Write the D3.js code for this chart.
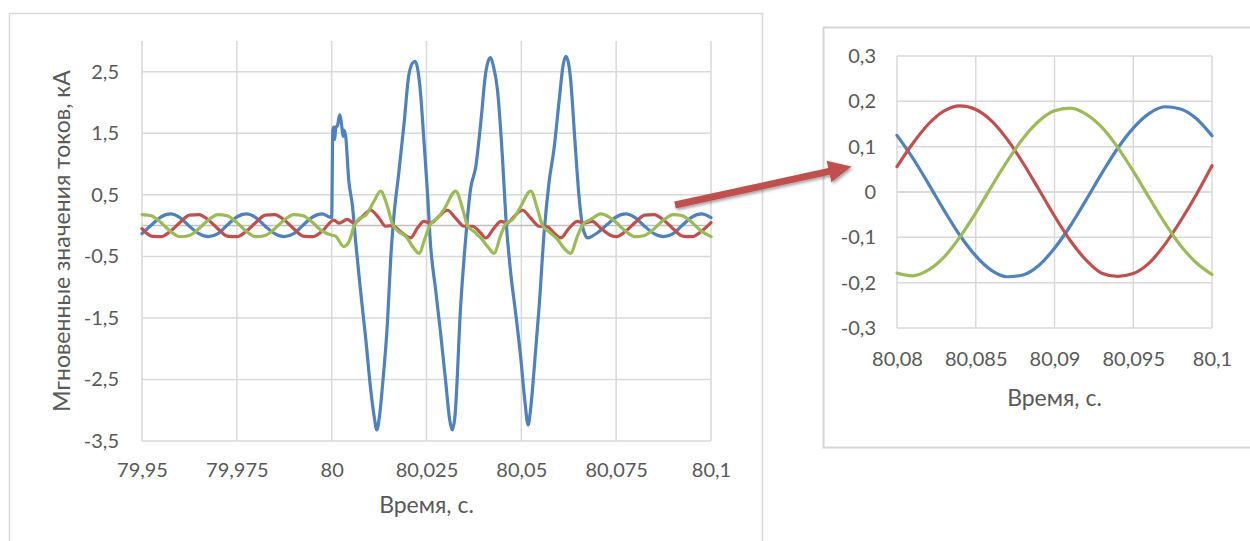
<!DOCTYPE html>
<html><head><meta charset="utf-8">
<script src="https://cdn.jsdelivr.net/npm/d3@7"></script>
<style>
body{margin:0;background:#fff;}
svg{display:block;font-family:Lato,"Open Sans",sans-serif;}
.tick text{fill:#595959;font-size:20px;}
</style></head>
<body>
<svg id="c" width="1250" height="541"></svg>
<script>
// ---------- DATA: main chart (79.95 – 80.1 s) ----------
const mainTickValuesX = [79.95, 79.975, 80, 80.025, 80.05, 80.075, 80.1];
const mainTickLabelsX = ["79,95", "79,975", "80", "80,025", "80,05", "80,075", "80,1"];
const mainTickValuesY = [-3.5, -2.5, -1.5, -0.5, 0.5, 1.5, 2.5];
const mainTickLabelsY = ["-3,5", "-2,5", "-1,5", "-0,5", "0,5", "1,5", "2,5"];

const blueTime = [79.95,79.9525,79.955,79.9575,79.96,79.9625,79.965,79.9675,79.97,79.9725,79.975,79.9775,79.98,79.9825,79.985,79.9875,79.99,79.9925,79.995,79.9975,80.0,
  80.0003,80.0006,80.0008,80.0011,80.0015,80.0021,80.0027,80.003,80.0033,80.0037,
  80.0045,80.0055,80.0063,80.0076,80.009,80.0103,80.0112,80.0119,80.0126,80.0134,80.0147,80.0156,80.0164,80.0177,80.0191,80.0203,80.0213,80.022,80.0228,80.0235,80.0243,80.0252,80.0261,80.0274,80.0287,80.0301,80.0311,80.0318,80.0325,
  80.034,80.0353,80.0366,80.038,80.0393,80.0406,80.0413,80.0419,80.0426,80.0437,80.045,80.0459,80.0472,80.0485,80.0498,80.0509,80.0518,80.0525,80.0533,80.0547,80.056,80.0573,80.0586,80.06,80.061,80.0617,80.0624,80.063,80.0641,80.0652,80.0661,80.0668,80.0675,80.0687,80.07,
  80.0725,80.075,80.0775,80.08,80.0825,80.085,80.0875,80.09,80.0925,80.095,80.0975,80.1];
const blueCurrent = [-0.13,0.01,0.14,0.19,0.13,-0.01,-0.13,-0.18,-0.13,0.01,0.14,0.19,0.13,-0.01,-0.13,-0.18,-0.13,0.01,0.14,0.19,0.13,
  1.55,1.6,1.4,1.6,1.62,1.8,1.6,1.45,1.55,1.45,
  0.74,0.31,-0.25,-1.05,-1.85,-2.67,-3.1,-3.32,-3.1,-2.6,-1.58,-0.5,0.15,0.86,1.67,2.43,2.64,2.67,2.5,2.1,1.4,0.59,-0.34,-1.04,-1.74,-2.56,-3.15,-3.32,-3.1,
  -1.31,-0.23,0.59,0.96,1.67,2.48,2.68,2.73,2.6,2.21,1.13,0.15,-0.77,-1.42,-2.12,-2.83,-3.24,-2.95,-2.39,-1.31,-0.12,0.7,1.24,2.05,2.6,2.75,2.65,2.37,1.4,0.48,0.0,-0.15,-0.2,-0.17,-0.12,
  0.01,0.14,0.19,0.13,-0.01,-0.13,-0.18,-0.13,0.01,0.14,0.19,0.13];

const redTime = [79.95,79.9525,79.955,79.9575,79.96,79.9625,79.965,79.9675,79.97,79.9725,79.975,79.9775,79.98,79.9825,79.985,79.9875,79.99,79.9925,79.995,79.9975,
  80.0006,80.0019,80.0041,80.0059,80.0081,80.0103,80.0125,80.0142,80.016,80.0182,80.0208,80.0226,80.0243,80.0261,80.0283,80.0305,80.0327,80.0349,80.0371,80.0393,80.0406,80.0428,80.0446,80.0463,80.0481,80.0503,80.0525,80.0547,80.0569,80.0586,80.0604,80.0626,80.0648,80.0665,80.0687,80.0709,80.0736,
  80.075,80.0775,80.08,80.0825,80.085,80.0875,80.09,80.0925,80.095,80.0975,80.1];
const redCurrent = [-0.05,-0.17,-0.18,-0.09,0.05,0.17,0.18,0.09,-0.05,-0.17,-0.18,-0.09,0.05,0.17,0.18,0.09,-0.05,-0.17,-0.18,-0.09,
  0.09,0.04,0.1,0.04,0.15,0.25,0.12,-0.01,0.0,-0.1,-0.2,-0.04,0.07,0.04,0.15,0.25,0.12,-0.01,-0.01,-0.12,-0.2,-0.04,0.07,0.04,0.15,0.25,0.12,-0.01,-0.02,-0.12,-0.2,-0.04,0.07,0.04,0.07,-0.04,-0.16,
  -0.18,-0.09,0.05,0.17,0.18,0.09,-0.05,-0.17,-0.18,-0.09,0.05];

const greenTime = [79.95,79.9525,79.955,79.9575,79.96,79.9625,79.965,79.9675,79.97,79.9725,79.975,79.9775,79.98,79.9825,79.985,79.9875,79.99,79.9925,79.995,79.9975,
  79.9997,80.001,80.0032,80.0046,80.0059,80.0072,80.009,80.0112,80.0129,80.0147,80.016,80.0177,80.0195,80.0217,80.023,80.0248,80.0261,80.0279,80.0296,80.0327,80.0345,80.0358,80.0376,80.0393,80.0415,80.0428,80.0446,80.0459,80.0477,80.0494,80.0525,80.0542,80.0556,80.0573,80.0595,80.0613,80.063,80.0648,80.0665,80.0683,80.0709,80.0736,
  80.075,80.0775,80.08,80.0825,80.085,80.0875,80.09,80.0925,80.095,80.0975,80.1];
const greenCurrent = [0.18,0.16,0.05,-0.09,-0.18,-0.16,-0.05,0.09,0.18,0.16,0.05,-0.09,-0.18,-0.16,-0.05,0.09,0.18,0.16,0.05,-0.09,
  -0.15,-0.17,-0.34,-0.26,-0.01,0.11,0.17,0.4,0.56,0.31,0.03,-0.1,-0.17,-0.37,-0.45,-0.17,0.03,0.12,0.26,0.56,0.28,0.0,-0.1,-0.2,-0.37,-0.45,-0.15,0.03,0.1,0.26,0.56,0.28,0.0,-0.1,-0.22,-0.37,-0.45,-0.17,0.04,0.1,0.19,0.12,
  0.05,-0.09,-0.18,-0.16,-0.05,0.09,0.18,0.16,0.05,-0.09,-0.18];

// ---------- DATA: zoomed chart (80.08 – 80.1 s) ----------
const zoomTickValuesX = [80.08, 80.085, 80.09, 80.095, 80.1];
const zoomTickLabelsX = ["80,08", "80,085", "80,09", "80,095", "80,1"];
const zoomTickValuesY = [-0.3, -0.2, -0.1, 0, 0.1, 0.2, 0.3];
const zoomTickLabelsY = ["-0,3", "-0,2", "-0,1", "0", "0,1", "0,2", "0,3"];
const zoomTime = [80.08,80.081,80.082,80.083,80.084,80.085,80.086,80.087,80.088,80.089,80.09,80.091,80.092,80.093,80.094,80.095,80.096,80.097,80.098,80.099,80.1];
const zoomBlue = [0.125,0.075,0.018,-0.041,-0.096,-0.141,-0.173,-0.187,-0.183,-0.162,-0.124,-0.075,-0.018,0.041,0.096,0.141,0.173,0.188,0.183,0.162,0.124];
const zoomRed = [0.056,0.107,0.150,0.179,0.190,0.182,0.157,0.116,0.064,0.006,-0.053,-0.107,-0.150,-0.179,-0.186,-0.180,-0.157,-0.116,-0.064,-0.006,0.058];
const zoomGreen = [-0.179,-0.185,-0.172,-0.143,-0.099,-0.046,0.012,0.068,0.118,0.156,0.179,0.185,0.172,0.143,0.099,0.046,-0.012,-0.068,-0.118,-0.156,-0.182];

const seriesColors = ["#4F81BD", "#C0504D", "#9BBB59"];

// ---------- DRAW ----------
const svg = d3.select("#c");
svg.append("rect").attr("width",1250).attr("height",541).attr("fill","#fff");

const defs = svg.append("defs");
const f = defs.append("filter").attr("id","sh").attr("x","-20%").attr("y","-50%").attr("width","140%").attr("height","200%");
f.append("feDropShadow").attr("dx",1.5).attr("dy",2).attr("stdDeviation",1.5).attr("flood-color","#000").attr("flood-opacity",0.35);

// frames
svg.append("rect").attr("x",9.5).attr("y",13.5).attr("width",753).attr("height",560)
  .attr("fill","none").attr("stroke","#d9d9d9").attr("stroke-width",1.5);
svg.append("rect").attr("x",823.5).attr("y",27.5).attr("width",460).attr("height",420)
  .attr("fill","none").attr("stroke","#d6d6d6").attr("stroke-width",2);

function drawChart(cfg){
  const g = svg.append("g");
  const x = d3.scaleLinear().domain(cfg.xDomain).range([cfg.left, cfg.right]);
  const y = d3.scaleLinear().domain(cfg.yDomain).range([cfg.bottom, cfg.top]);
  g.selectAll(".vg").data(cfg.xTicks).join("line")
    .attr("x1",d=>x(d)).attr("x2",d=>x(d)).attr("y1",cfg.top).attr("y2",cfg.bottom)
    .attr("stroke","#d9d9d9").attr("stroke-width",1.5);
  g.selectAll(".hg").data(cfg.yTicks).join("line")
    .attr("x1",cfg.left).attr("x2",cfg.right).attr("y1",d=>y(d)).attr("y2",d=>y(d))
    .attr("stroke","#d9d9d9").attr("stroke-width",1.5);
  g.append("line").attr("x1",cfg.left).attr("x2",cfg.right).attr("y1",y(0)).attr("y2",y(0))
    .attr("stroke",cfg.zeroColor).attr("stroke-width",1.5);
  const ax = d3.axisBottom(x).tickValues(cfg.xTicks).tickSize(0).tickPadding(cfg.xPad)
    .tickFormat((d,i)=>cfg.xLabels[i]);
  const axG = g.append("g").attr("transform",`translate(0,${cfg.bottom})`).call(ax);
  axG.select(".domain").remove();
  axG.selectAll("text").attr("font-family","Lato").attr("font-size",cfg.fs);
  const ay = d3.axisLeft(y).tickValues(cfg.yTicks).tickSize(0).tickPadding(cfg.yPad)
    .tickFormat((d,i)=>cfg.yLabels[i]);
  const ayG = g.append("g").attr("transform",`translate(${cfg.left},0)`).call(ay);
  ayG.select(".domain").remove();
  ayG.selectAll("text").attr("font-family","Lato").attr("font-size",cfg.fs);
  const line = d3.line().x(d=>x(d[0])).y(d=>y(d[1])).curve(d3.curveMonotoneX);
  cfg.series.forEach((s,i)=>{
    const pts = s.t.map((t,j)=>[t,s.v[j]]);
    g.append("path").datum(pts).attr("d",line).attr("fill","none")
      .attr("stroke",s.color).attr("stroke-width",3.2).attr("stroke-linejoin","round").attr("stroke-linecap","round");
  });
  g.append("text").attr("x",(cfg.left+cfg.right)/2).attr("y",cfg.xTitleY)
    .attr("text-anchor","middle").attr("fill","#595959").attr("font-size",cfg.tfs).attr("font-family","Lato")
    .text("Время, с.");
  if(cfg.yTitle){
    g.append("text").attr("transform",`translate(${cfg.yTitleX},${(cfg.top+cfg.bottom)/2}) rotate(-90)`)
      .attr("text-anchor","middle").attr("dominant-baseline","central").attr("fill","#595959")
      .attr("font-size",cfg.tfs).attr("font-family","Lato").text(cfg.yTitle);
  }
}

drawChart({
  xDomain:[79.95,80.1], yDomain:[-3.5,3.0], left:142, right:711, top:41, bottom:441,
  xTicks:mainTickValuesX, xLabels:mainTickLabelsX, yTicks:mainTickValuesY, yLabels:mainTickLabelsY,
  xPad:22, yPad:23, fs:20, tfs:23, zeroColor:"#bfbfbf", xTitleY:513,
  yTitle:"Мгновенные значения токов, кА", yTitleX:61,
  series:[
    {t:blueTime, v:blueCurrent, color:seriesColors[0]},
    {t:redTime, v:redCurrent, color:seriesColors[1]},
    {t:greenTime, v:greenCurrent, color:seriesColors[2]}
  ]
});

drawChart({
  xDomain:[80.08,80.1], yDomain:[-0.3,0.3], left:897, right:1212, top:56, bottom:328,
  xTicks:zoomTickValuesX, xLabels:zoomTickLabelsX, yTicks:zoomTickValuesY, yLabels:zoomTickLabelsY,
  xPad:24, yPad:21, fs:20, tfs:23, zeroColor:"#d9d9d9", xTitleY:406,
  series:[
    {t:zoomTime, v:zoomBlue, color:seriesColors[0]},
    {t:zoomTime, v:zoomRed, color:seriesColors[1]},
    {t:zoomTime, v:zoomGreen, color:seriesColors[2]}
  ]
});

// arrow pointing from main chart to zoomed chart
const arrow = svg.append("g").attr("filter","url(#sh)");
const tail = [675,205], tip = [851.5,166.5];
const ang = Math.atan2(tip[1]-tail[1], tip[0]-tail[0]);
const headLen = 23, headHalf = 11, shaft = 3.5;
const bx = tip[0]-headLen*Math.cos(ang), by = tip[1]-headLen*Math.sin(ang);
const nx = -Math.sin(ang), ny = Math.cos(ang);
const poly = [
  [tail[0]+nx*shaft, tail[1]+ny*shaft],
  [bx+nx*shaft, by+ny*shaft],
  [bx+nx*headHalf, by+ny*headHalf],
  tip,
  [bx-nx*headHalf, by-ny*headHalf],
  [bx-nx*shaft, by-ny*shaft],
  [tail[0]-nx*shaft, tail[1]-ny*shaft]
];
arrow.append("path").attr("d","M"+poly.map(p=>p.join(",")).join("L")+"Z").attr("fill","#C0504D");
</script>
</body></html>
